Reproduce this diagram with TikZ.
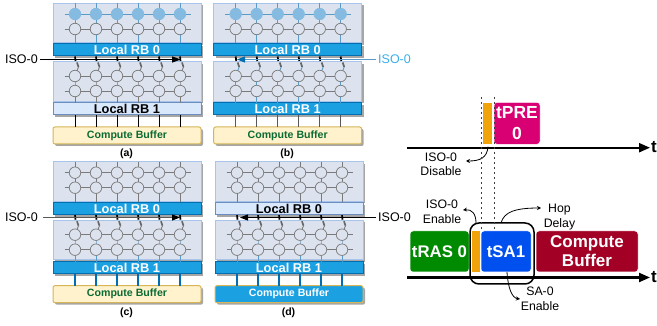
\documentclass[tikz,border=0pt]{standalone}
\usepackage{fontspec}
\setmainfont{Liberation Sans}
\usetikzlibrary{arrows.meta,shadows,calc}
\definecolor{arrfill}{HTML}{DDE3EE}
\definecolor{arrline}{HTML}{A9C4EB}
\definecolor{rbblue}{HTML}{1BA1E2}
\definecolor{rbline}{HTML}{006EAF}
\definecolor{rblight}{HTML}{DAE8FC}
\definecolor{rblightl}{HTML}{6C8EBF}
\definecolor{cbfill}{HTML}{FFF2CC}
\definecolor{cbline}{HTML}{D6B656}
\definecolor{cbtext}{HTML}{0B6B34}
\definecolor{wireblue}{HTML}{5B9BC8}
\definecolor{wiredeep}{HTML}{006EAF}
\definecolor{cellblue}{HTML}{85BBE0}
\definecolor{isoblue}{HTML}{3AAEE6}
\definecolor{orangeb}{HTML}{F0A30A}
\definecolor{pinkb}{HTML}{D80073}
\definecolor{greenb}{HTML}{008A00}
\definecolor{blueb}{HTML}{0050EF}
\definecolor{redb}{HTML}{A20025}
\colorlet{wiregray}{black!52}
\tikzset{
  softshadow/.style={drop shadow={shadow xshift=2pt,shadow yshift=-2pt,fill=black,opacity=.35}},
  arraybox/.style={draw=arrline,line width=1pt,fill=arrfill,minimum width=148pt,minimum height=39.5pt,inner sep=0pt,softshadow},
  rbbox/.style={line width=1pt,minimum width=148pt,minimum height=12pt,inner sep=0pt,softshadow},
  rbon/.style={rbbox,draw=rbline,fill=rbblue},
  rboff/.style={rbbox,draw=rblightl,fill=rblight},
  rbtext/.style={font=\fontsize{12.8}{14}\selectfont\bfseries,inner sep=0pt},
  cbbox/.style={rounded corners=2pt,line width=1pt,minimum width=148pt,minimum height=17pt,inner sep=0pt,softshadow,font=\fontsize{10.6}{11}\selectfont\bfseries},
  cboff/.style={cbbox,draw=cbline,fill=cbfill,text=cbtext},
  cbon/.style={cbbox,draw=cbline,fill=rbblue,text=white},
  cell/.style={circle,draw=wiregray,line width=.7pt,fill=arrfill,minimum size=11.5pt,inner sep=0pt},
  cellon/.style={cell,draw=cellblue,fill=cellblue},
  caption/.style={font=\fontsize{10.5}{11}\selectfont\bfseries,inner sep=0pt},
  lbl/.style={font=\fontsize{12.5}{14}\selectfont,inner sep=0pt,align=center},
  smalllbl/.style={font=\fontsize{12.3}{14.5}\selectfont,inner sep=0pt,align=center},
  slot/.style={rounded corners=3pt,draw=white,line width=.5pt,inner sep=0pt,text=white,font=\fontsize{17}{20}\selectfont\bfseries,align=center},
  axis/.style={line width=2.2pt,-{Triangle[length=11pt,width=9pt]}},
  guide/.style={dash pattern=on 2.5pt off 2.5pt,line width=.8pt,draw=black!75},
  callout/.style={line width=.8pt,-{Stealth[length=4pt,width=4pt]}},
}
% #1 name, #2 shift, #3 style options, #4 caption
\newcommand{\panelbody}[4]{%
\begin{scope}[shift={#2},#3]
  \node[arraybox] (#1-top) at (127,23) {};
  \node[arraybox] (#1-low) at (127,81.5) {};
  \node[rbz] (#1-rbz) at (127,50) {};
  \node[rbo] (#1-rbo) at (127,109) {};
  \node[cbk] (#1-cb) at (127,135.5) {Compute Buffer};
  \node[caption] (#1-cap) at (126.5,154) {#4};
  \foreach \c/\i in {75/1,96/2,117/3,138/4,159/5,180/6}{
    \coordinate (#1-a\i) at (\c,3);
    \coordinate (#1-b\i) at (\c,43.5);
    \coordinate (#1-c\i) at (\c,56.5);
    \coordinate (#1-d\i) at (\c+.5,61);
    \coordinate (#1-e\i) at (\c+2,62.5);
    \coordinate (#1-f\i) at (\c+3.5,67);
    \coordinate (#1-g\i) at (\c,76);
    \coordinate (#1-h\i) at (\c,91);
    \coordinate (#1-j\i) at (\c,103);
    \coordinate (#1-k\i) at (\c,115.5);
    \coordinate (#1-l\i) at (\c,127);
    \draw[wa,line width=1pt] (#1-a\i) -- (#1-b\i);
    \draw[black,line width=1.7pt] (#1-c\i) -- (#1-d\i);
    \draw[black!60,line width=1.7pt] (#1-e\i) -- (#1-f\i);
    \draw[wm,line width=.9pt] (#1-f\i) -- (#1-g\i);
    \draw[wb,line width=1pt] (#1-g\i) -- (#1-h\i) -- (#1-j\i);
    \draw[wc] (#1-k\i) -- (#1-l\i);
  }
  \foreach \r/\s/\y in {1/cellr/14,2/cell/29,3/cell/76,4/cell/91}{
    \coordinate (#1-ls\r) at (64.5,\y);
    \coordinate (#1-le\r) at (190.5,\y);
    \draw[rowc\r,line width=.8pt] (#1-ls\r) -- (#1-le\r);
    \foreach \c/\i in {75/1,96/2,117/3,138/4,159/5,180/6}
      \node[\s] (#1-n\r\i) at (\c,\y) {};
  }
\end{scope}}
\begin{document}
\begin{tikzpicture}[x=1pt,y=-1pt]
\useasboundingbox (0,0) rectangle (657,326);
% panels
\panelbody{pa}{(0,0)}{rbz/.style=rbon,rbo/.style=rboff,cbk/.style=cboff,cellr/.style=cellon,
  wa/.style={draw=wireblue},wm/.style={draw=wiregray},wb/.style={draw=wiregray},wc/.style={draw=black,line width=1pt},
  rowc1/.style={draw=wireblue},rowc2/.style={draw=wiregray},rowc3/.style={draw=wiregray},rowc4/.style={draw=wiregray}}{(a)}
\panelbody{pb}{(160.7,0)}{rbz/.style=rbon,rbo/.style=rbon,cbk/.style=cboff,cellr/.style=cellon,
  wa/.style={draw=wireblue},wm/.style={draw=wireblue},wb/.style={draw=wireblue},wc/.style={draw=black!65,line width=1.2pt},
  rowc1/.style={draw=wireblue},rowc2/.style={draw=wiregray},rowc3/.style={draw=wiregray},rowc4/.style={draw=wiregray}}{(b)}
\panelbody{pc}{(0,158.7)}{rbz/.style=rbon,rbo/.style=rbon,cbk/.style=cboff,cellr/.style=cell,
  wa/.style={draw=wiregray},wm/.style={draw=wiregray},wb/.style={draw=wireblue},wc/.style={draw=wiredeep,line width=1.2pt},
  rowc1/.style={draw=wiregray},rowc2/.style={draw=wiregray},rowc3/.style={draw=wiregray},rowc4/.style={draw=wiregray}}{(c)}
\panelbody{pd}{(162,158.7)}{rbz/.style=rboff,rbo/.style=rbon,cbk/.style=cbon,cellr/.style=cell,
  wa/.style={draw=wiregray},wm/.style={draw=wiregray},wb/.style={draw=wireblue},wc/.style={draw=wiredeep,line width=1.2pt},
  rowc1/.style={draw=wiregray},rowc2/.style={draw=wiregray},rowc3/.style={draw=wiregray},rowc4/.style={draw=wiregray}}{(d)}
% RB labels (placed on the boxes)
\node[rbtext,text=white] (ta0) at (pa-rbz) {Local RB 0};
\node[rbtext,text=black] (ta1) at (pa-rbo) {Local RB 1};
\node[rbtext,text=white] (tb0) at (pb-rbz) {Local RB 0};
\node[rbtext,text=white] (tb1) at (pb-rbo) {Local RB 1};
\node[rbtext,text=white] (tc0) at (pc-rbz) {Local RB 0};
\node[rbtext,text=white] (tc1) at (pc-rbo) {Local RB 1};
\node[rbtext,text=black] (td0) at (pd-rbz) {Local RB 0};
\node[rbtext,text=white] (td1) at (pd-rbo) {Local RB 1};
% ISO labels and lines
\node[lbl,anchor=east] (isoa) at (38,59.5) {ISO-0};
\coordinate (isoaend) at (181,59.5);
\draw[black,line width=1pt,-{Triangle[length=9pt,width=6pt]}] (isoa.east) ++(2,0) -- (isoaend);
\node[lbl,anchor=west,text=isoblue] (isob) at (378,59.5) {ISO-0};
\coordinate (isobend) at (237,59.5);
\draw[wireblue,line width=1pt,-{Triangle[length=8pt,width=6pt,color=wiredeep]}] (isob.west) ++(-2,0) -- (isobend);
\node[lbl,anchor=east] (isoc) at (38,217.5) {ISO-0};
\coordinate (isocend) at (180,217.5);
\draw[black!65,line width=1.2pt,-{Triangle[length=8pt,width=6pt,color=black]}] (isoc.east) ++(5,0) -- (isocend);
\node[lbl,anchor=west] (isod) at (378,217.5) {ISO-0};
\coordinate (isodend) at (240,217.5);
\draw[black,line width=1pt,-{Triangle[length=8pt,width=6pt]}] (isod.west) ++(-2,0) -- (isodend);
% timing, top
\coordinate (ax1s) at (407,147.7);
\coordinate (ax1e) at (650,147.7);
\draw[axis] (ax1s) -- (ax1e);
\node[font=\fontsize{17}{18}\selectfont\bfseries,inner sep=0pt] (t1) at (654,147) {t};
\node[fill=orangeb,draw=white,line width=.4pt,minimum width=10pt,minimum height=42pt,inner sep=0pt] (ora1) at (487.5,123.5) {};
\node[slot,fill=pinkb,minimum width=46pt,minimum height=42pt,font=\fontsize{17.5}{21}\selectfont\bfseries] (pre) at (517,123.3) {tPRE\\0};
\node[smalllbl] (dis) at (441,164.5) {ISO-0\\Disable};
\draw[callout] (ora1.south) ++(0.5,2) .. controls (487,158) and (480,161) .. (466,161);
% timing, bottom
\coordinate (ax2s) at (407,277.5);
\coordinate (ax2e) at (650,277.5);
\node[slot,fill=greenb,minimum width=59pt,minimum height=41pt,font=\fontsize{16.8}{19}\selectfont\bfseries] (ras) at (439.5,251.5) {tRAS 0};
\node[fill=orangeb,minimum width=8pt,minimum height=41pt,inner sep=0pt] (ora2) at (476,251.5) {};
\node[slot,fill=blueb,minimum width=50pt,minimum height=41pt,font=\fontsize{16.8}{19}\selectfont\bfseries] (sa) at (506,251.5) {tSA1};
\node[slot,fill=redb,minimum width=102pt,minimum height=41pt,font=\fontsize{17}{19}\selectfont\bfseries] (cbuf) at (587,251.5) {Compute\\Buffer};
\draw[axis] (ax2s) -- (ax2e);
\node[font=\fontsize{17}{18}\selectfont\bfseries,inner sep=0pt] (t2) at (654,277) {t};
\node[draw=black,line width=1.5pt,rounded corners=9pt,minimum width=64pt,minimum height=61pt,inner sep=0pt] (grp) at (502,253.5) {};
\coordinate (g1t) at (481.7,97);
\coordinate (g1b) at (481.7,231);
\coordinate (g2t) at (494,97);
\coordinate (g2b) at (494,231);
\draw[guide] (g1t) -- (g1b);
\draw[guide] (g2t) -- (g2b);
\node[smalllbl] (en) at (442,212) {ISO-0\\Enable};
\coordinate (ena) at (476,223);
\coordinate (enb) at (463,210);
\draw[callout] (ena) .. controls (476,214) and (472,209) .. (enb);
\node[smalllbl] (hop) at (559.5,217) {Hop\\Delay};
\coordinate (hopa) at (501,223);
\coordinate (hopb) at (541,208);
\draw[callout] (hopa) .. controls (504,212) and (515,208) .. (hopb);
\node[smalllbl] (sae) at (540,299) {SA-0\\Enable};
\coordinate (saa) at (507,272);
\coordinate (sab) at (520,299);
\draw[callout] (saa) .. controls (508,288) and (512,298) .. (sab);
\end{tikzpicture}
\end{document}
